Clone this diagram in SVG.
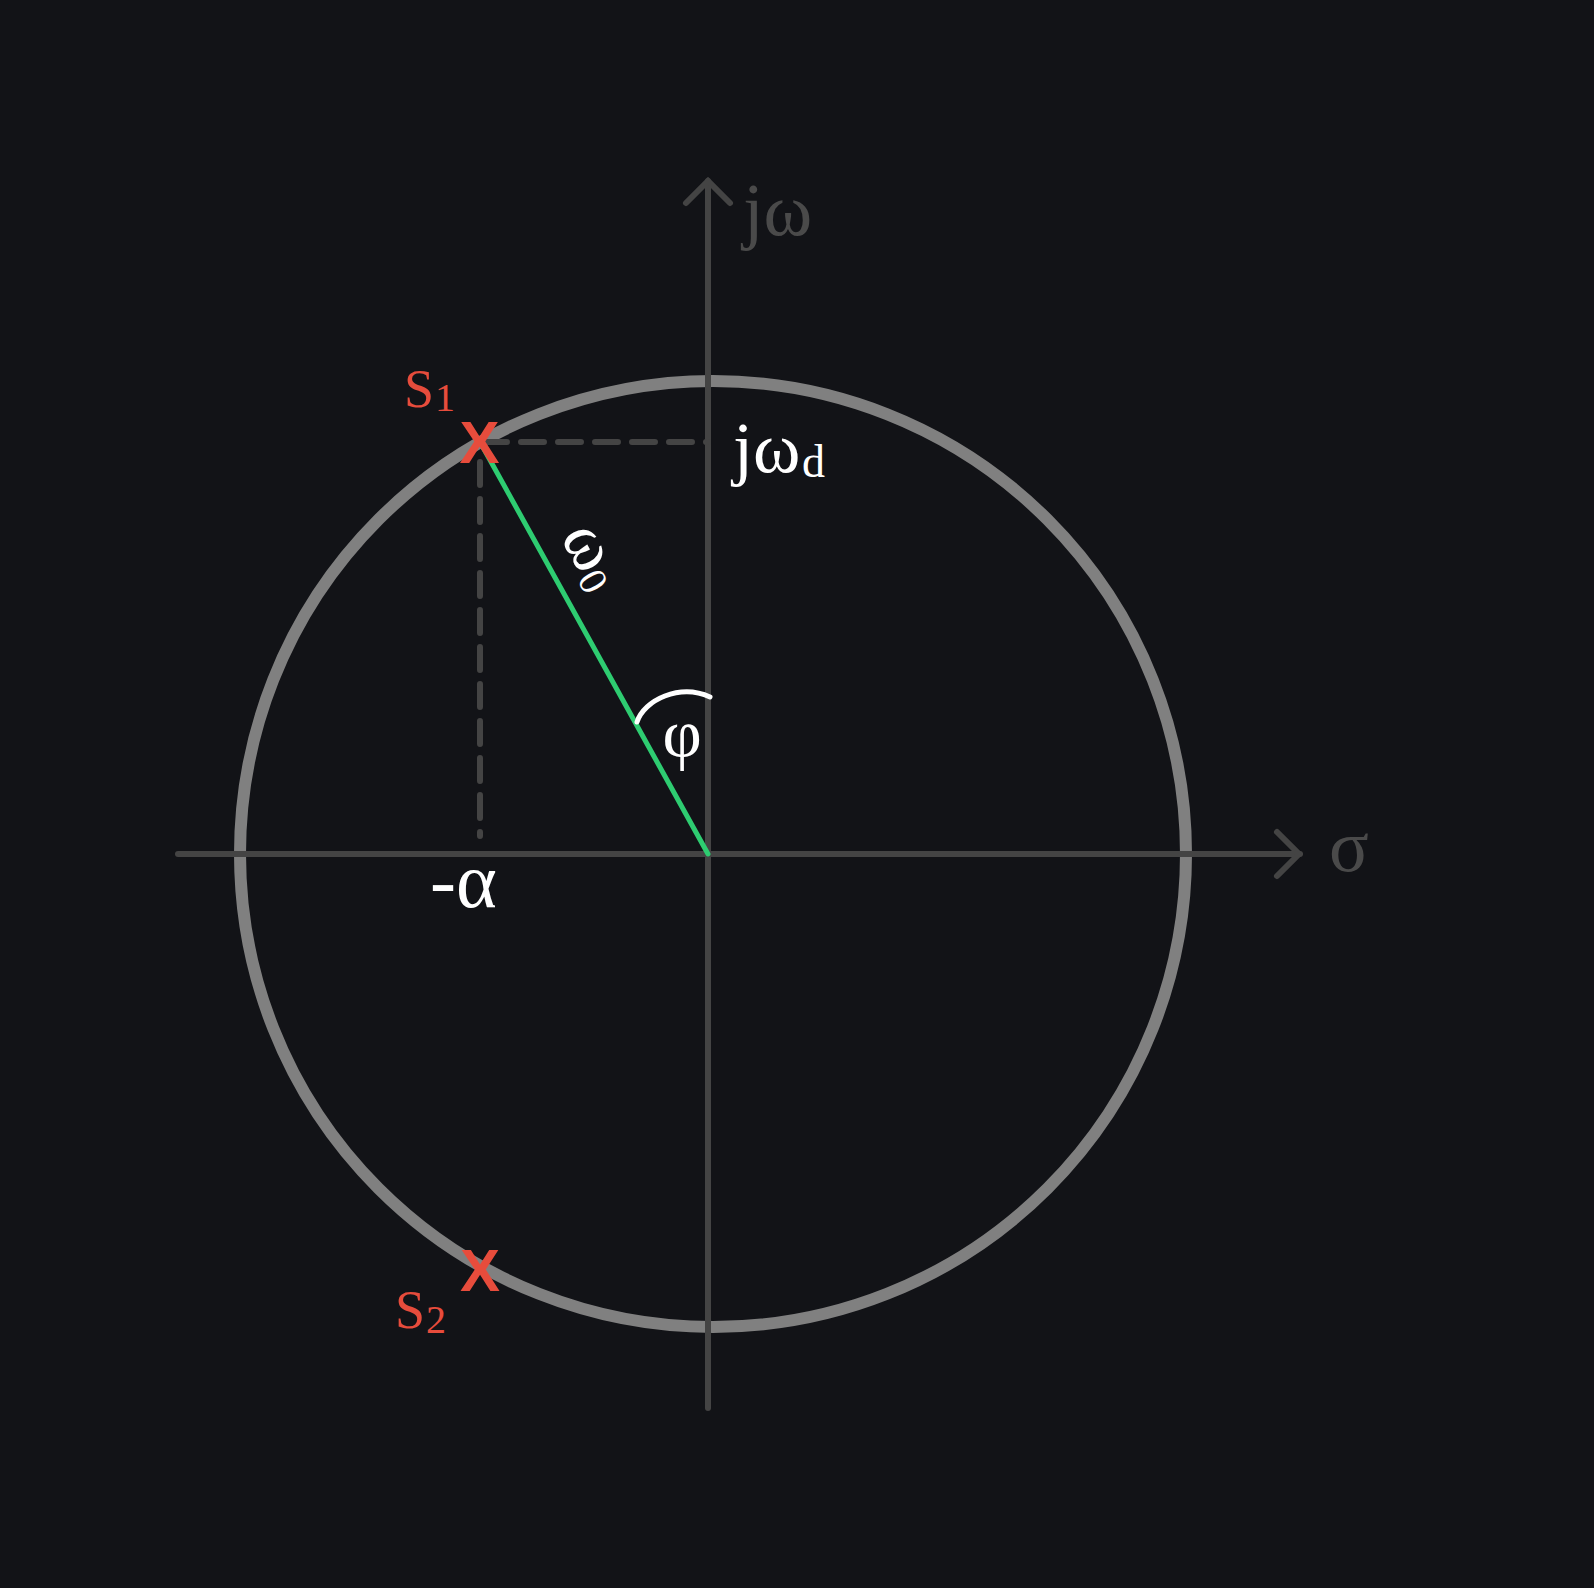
<svg xmlns="http://www.w3.org/2000/svg" width="1594" height="1588" viewBox="0 0 1594 1588">
<style>
.axis{stroke:#444444;stroke-width:6;stroke-linecap:round;fill:none}
.dash{stroke:#444444;stroke-width:6;stroke-linecap:round;stroke-dasharray:23 14;fill:none}
.lbl{font-family:"Liberation Serif","DejaVu Serif",serif}
.mark{font-family:"Liberation Sans",Arial,sans-serif;font-size:60px;font-weight:bold;fill:#e74c3c}
.red{fill:#e74c3c}
.wht{fill:#ffffff}
.gry{fill:#4a4a4a}
</style>
<rect width="1594" height="1588" fill="#121317"/>
<g id="circle">
<circle cx="713" cy="854" r="473" fill="none" stroke="#808080" stroke-width="12"/>
</g>
<g id="connectors">
<line class="axis" x1="178" y1="854" x2="1300" y2="854"/>
<polyline class="axis" points="1277,832 1299,854 1277,876"/>
<line class="axis" x1="708" y1="1408" x2="708" y2="181"/>
<polyline class="axis" points="686,203 708,181 730,203"/>
<line class="dash" x1="484" y1="442" x2="708" y2="442"/>
<line class="dash" x1="480" y1="462" x2="480" y2="836"/>
<line x1="480" y1="442" x2="708" y2="854" stroke="#2ecc71" stroke-width="5" stroke-linecap="round"/>
<path d="M637,722 C644,700 680,683 710,697" fill="none" stroke="#ffffff" stroke-width="5" stroke-linecap="round"/>
</g>
<g id="axis-labels">
<text class="lbl gry" x="743" y="235" font-size="74">jω</text>
<text class="lbl gry" x="1329" y="871" font-size="74">σ</text>
</g>
<g id="s1">
<text class="mark" x="479.5" y="463" text-anchor="middle">X</text>
<text class="lbl red" x="404" y="407" font-size="54">S<tspan x="435" y="411" font-size="40">1</tspan></text>
</g>
<g id="s2">
<text class="mark" x="480" y="1291" text-anchor="middle">X</text>
<text class="lbl red" x="395" y="1328" font-size="54">S<tspan x="426" y="1333" font-size="40">2</tspan></text>
</g>
<g id="labels">
<text class="lbl wht" x="733" y="472" font-size="72">jω<tspan x="802" y="477" font-size="46">d</tspan></text>
<text class="lbl wht" x="430" y="907" font-size="78">-α</text>
<text class="lbl wht" x="682" y="757" font-size="68" text-anchor="middle">φ</text>
<text class="lbl wht" font-size="68" transform="translate(560,537) rotate(61)">ω<tspan font-size="40" dy="6">0</tspan></text>
</g>
</svg>
